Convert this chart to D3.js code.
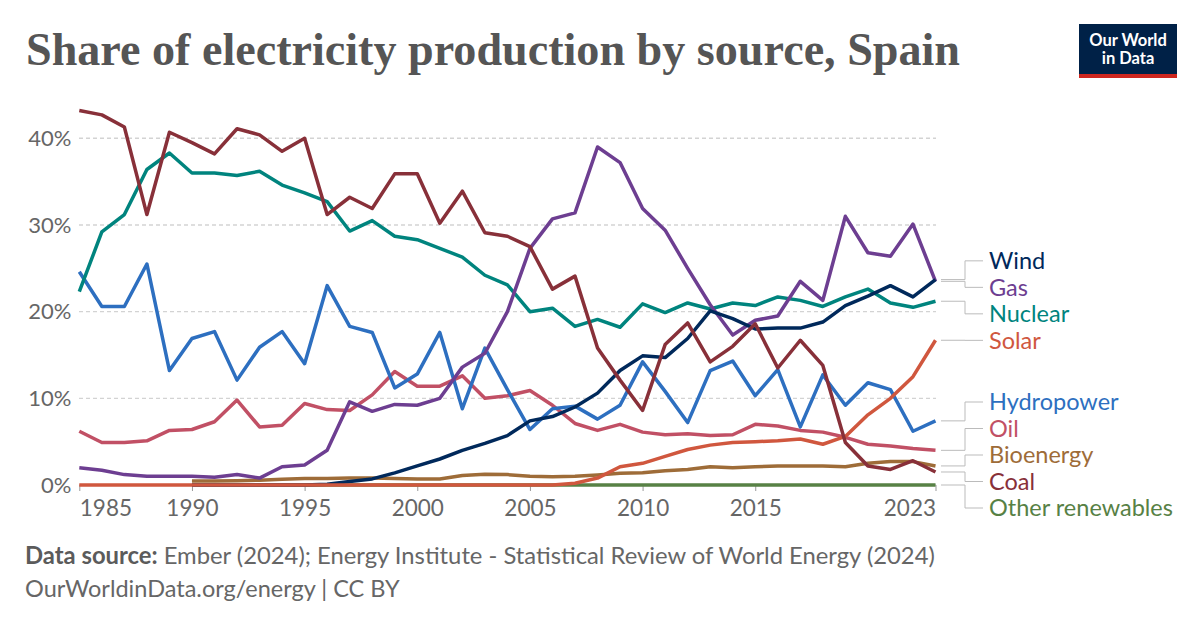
<!DOCTYPE html>
<html><head><meta charset="utf-8">
<script src="https://cdn.jsdelivr.net/npm/d3@7"></script>
<style>
body{margin:0;background:#fff}
svg{display:block}
text{font-family:Lato,"Noto Sans",sans-serif}
</style>
</head><body><svg id="c" width="1200" height="628"></svg>
<script>
// ---------- DATA (share of electricity, %, 1985–2023) ----------
const years = d3.range(1985, 2024);
const wind = [null,null,null,null,null,0.0,0.0,0.0,0.0,0.0,0.0,0.1,0.4,0.7,1.4,2.2,3.0,4.0,4.8,5.7,7.4,7.9,9.0,10.6,13.2,14.9,14.7,16.9,20.1,19.2,18.0,18.1,18.1,18.8,20.7,21.8,23.0,21.7,23.7];
const gas = [2.0,1.7,1.2,1.0,1.0,1.0,0.9,1.2,0.8,2.1,2.3,4.0,9.6,8.5,9.3,9.2,10.0,13.6,15.2,20.0,27.3,30.7,31.4,39.0,37.2,31.9,29.4,25.0,20.8,17.3,19.0,19.5,23.5,21.3,31.0,26.8,26.4,30.1,23.5];
const nuclear = [22.3,29.2,31.2,36.4,38.3,36.0,36.0,35.7,36.2,34.6,33.7,32.7,29.3,30.5,28.7,28.3,27.3,26.3,24.2,23.1,20.0,20.4,18.3,19.1,18.2,20.9,19.9,21.0,20.3,21.0,20.7,21.7,21.3,20.6,21.7,22.6,21.0,20.5,21.2];
const solar = [0,0,0,0,0,0,0,0,0,0,0,0,0,0,0,0,0,0,0,0,0,0,0.2,0.8,2.1,2.5,3.3,4.1,4.6,4.9,5.0,5.1,5.3,4.7,5.6,8.1,10.0,12.5,16.7];
const hydropower = [24.6,20.6,20.6,25.5,13.2,16.9,17.7,12.1,15.9,17.7,14.0,23.0,18.3,17.6,11.2,12.8,17.6,8.8,15.8,11.0,6.4,8.8,9.1,7.6,9.2,14.2,10.8,7.2,13.2,14.3,10.3,13.3,6.7,12.7,9.2,11.8,11.0,6.2,7.4];
const oil = [6.2,4.9,4.9,5.1,6.3,6.4,7.3,9.8,6.7,6.9,9.4,8.7,8.6,10.4,13.1,11.4,11.4,12.6,10.0,10.3,10.9,9.2,7.1,6.3,7.0,6.1,5.8,5.9,5.7,5.8,7.0,6.8,6.3,6.1,5.5,4.7,4.5,4.2,4.0];
const bioenergy = [null,null,null,null,null,0.45,0.45,0.5,0.55,0.65,0.75,0.75,0.8,0.8,0.75,0.7,0.7,1.1,1.25,1.2,1.0,0.95,1.0,1.15,1.35,1.4,1.65,1.8,2.1,2.0,2.1,2.2,2.2,2.2,2.1,2.5,2.7,2.7,2.2];
const coal = [43.2,42.7,41.3,31.2,40.7,39.5,38.2,41.1,40.4,38.5,40.0,31.2,33.2,31.9,35.9,35.9,30.2,33.9,29.1,28.7,27.5,22.6,24.1,15.8,12.1,8.6,16.2,18.7,14.2,16.0,18.6,13.5,16.7,13.8,4.9,2.2,1.8,2.8,1.5];
const otherRenewables = [null,null,null,null,null,0,0,0,0,0,0,0,0,0,0,0,0,0,0,0,0,0,0,0,0,0,0,0,0,0,0,0,0,0,0,0,0,0,0];

const seriesNames = ["Wind","Gas","Nuclear","Solar","Hydropower","Oil","Bioenergy","Coal","Other renewables"];
const seriesValues = [wind,gas,nuclear,solar,hydropower,oil,bioenergy,coal,otherRenewables];
const seriesColors = ["#00295b","#6d3e91","#00847e","#d0573e","#2d6fc0","#c15065","#9e6c38","#883039","#578145"];
const drawOrder = ["Other renewables","Bioenergy","Oil","Hydropower","Nuclear","Gas","Wind","Solar","Coal"];

const xTickYears = [1985,1990,1995,2000,2005,2010,2015,2023];
const yTicks = [0,10,20,30,40];

const titleText = "Share of electricity production by source, Spain";
const sourceLabel = "Data source:";
const sourceText = " Ember (2024); Energy Institute - Statistical Review of World Energy (2024)";
const footerLine2 = "OurWorldinData.org/energy | CC BY";

// ---------- CHART ----------
(function () {
const svg = d3.select("#c");
const x = d3.scaleLinear().domain([1985, 2023]).range([79.3, 935.5]);
const y = d3.scaleLinear().domain([0, 40]).range([485, 138.3]);

// title
const title = svg.append("text").attr("x", 26).attr("y", 65)
  .style("font-family", "'Liberation Serif','DejaVu Serif',serif")
  .style("font-weight", "bold").style("font-size", "46px").attr("fill", "#555")
  .text(titleText);
title.attr("textLength", 934).attr("lengthAdjust", "spacingAndGlyphs");

// logo
const logo = svg.append("g");
logo.append("rect").attr("x", 1079).attr("y", 24).attr("width", 98).attr("height", 54).attr("fill", "#002147");
logo.append("rect").attr("x", 1079).attr("y", 74).attr("width", 98).attr("height", 4).attr("fill", "#ce261e");
logo.append("text").attr("x", 1128).attr("y", 45.5).attr("text-anchor", "middle").attr("fill", "#fff")
  .style("font-size", "16.5px").style("font-weight", "bold").text("Our World");
logo.append("text").attr("x", 1128).attr("y", 64).attr("text-anchor", "middle").attr("fill", "#fff")
  .style("font-size", "16.5px").style("font-weight", "bold").text("in Data");

// grid
svg.append("g").selectAll("line").data(yTicks).join("line")
  .attr("x1", 79).attr("x2", 936).attr("y1", d => y(d)).attr("y2", d => y(d))
  .attr("stroke", "#d3d3d3").attr("stroke-width", 1.4).attr("stroke-dasharray", "4,3");

// y axis
const yAxis = svg.append("g").attr("transform", "translate(79,0)")
  .call(d3.axisLeft(y).tickValues(yTicks).tickFormat(d => d + "%").tickSize(0).tickPadding(7.5));
yAxis.select(".domain").remove();
yAxis.selectAll("text").style("font-size", "22px").style("font-family", "Lato").attr("fill", "#666");

// x axis
const xAxis = svg.append("g").attr("transform", "translate(0,485)")
  .call(d3.axisBottom(x).tickValues(xTickYears).tickFormat(d3.format("d")).tickSize(6).tickPadding(9));
xAxis.select(".domain").remove();
xAxis.selectAll(".tick line").attr("stroke", "#999");
xAxis.selectAll("text").style("font-size", "22.5px").style("font-family", "Lato").attr("fill", "#666")
  .attr("text-anchor", d => d === 1985 ? "start" : d === 2023 ? "end" : "middle");

// lines
const series = seriesNames.map((n, i) => ({
  name: n, color: seriesColors[i],
  points: years.map((yr, j) => ({year: yr, v: seriesValues[i][j]}))
}));
const line = d3.line().defined(d => d.v != null).x(d => x(d.year)).y(d => y(d.v));
const ordered = drawOrder.map(n => series.find(s => s.name === n));
svg.append("g").selectAll("path").data(ordered).join("path")
  .attr("d", d => line(d.points)).attr("fill", "none")
  .attr("stroke", d => d.color).attr("stroke-width", 3.5)
  .attr("stroke-linejoin", "round").attr("stroke-linecap", "butt");

// labels with simple collision avoidance
const gap = 26.5, maxY = 508;
const items = series.map(s => {
  const last = s.points.filter(p => p.v != null).pop();
  return {name: s.name, color: s.color, ty: y(last.v)};
}).sort((a, b) => a.ty - b.ty);
let clusters = items.map(it => ({items: [it]}));
function clusterTop(c) {
  const n = c.items.length;
  let t = d3.mean(c.items, d => d.ty) - (n - 1) * gap / 2;
  if (t + (n - 1) * gap > maxY) t = maxY - (n - 1) * gap;
  return t;
}
let merged = true;
while (merged) {
  merged = false;
  for (let i = 0; i < clusters.length - 1; i++) {
    const a = clusters[i], b = clusters[i + 1];
    if (clusterTop(a) + a.items.length * gap > clusterTop(b)) {
      clusters.splice(i, 2, {items: a.items.concat(b.items)});
      merged = true; break;
    }
  }
}
clusters.forEach(c => { const t = clusterTop(c); c.items.forEach((it, k) => it.ly = t + k * gap); });

const lg = svg.append("g");
lg.selectAll("path").data(items).join("path")
  .attr("d", d => `M941,${d.ty}H965V${d.ly}H983`)
  .attr("fill", "none").attr("stroke", "#bbb").attr("stroke-width", 1);
lg.selectAll("text").data(items).join("text")
  .attr("x", 989).attr("y", d => d.ly).attr("dy", "0.35em")
  .attr("fill", d => d.color).style("font-size", "23.5px").text(d => d.name);

// footer
const f1 = svg.append("text").attr("x", 25).attr("y", 563.5).attr("fill", "#666").style("font-size", "23.8px");
f1.append("tspan").style("font-weight", "bold").attr("fill", "#5b5b5b").text(sourceLabel);
f1.append("tspan").text(sourceText);
svg.append("text").attr("x", 25).attr("y", 596.5).attr("fill", "#666").style("font-size", "23.5px").text(footerLine2);
})();
</script>
</body></html>
